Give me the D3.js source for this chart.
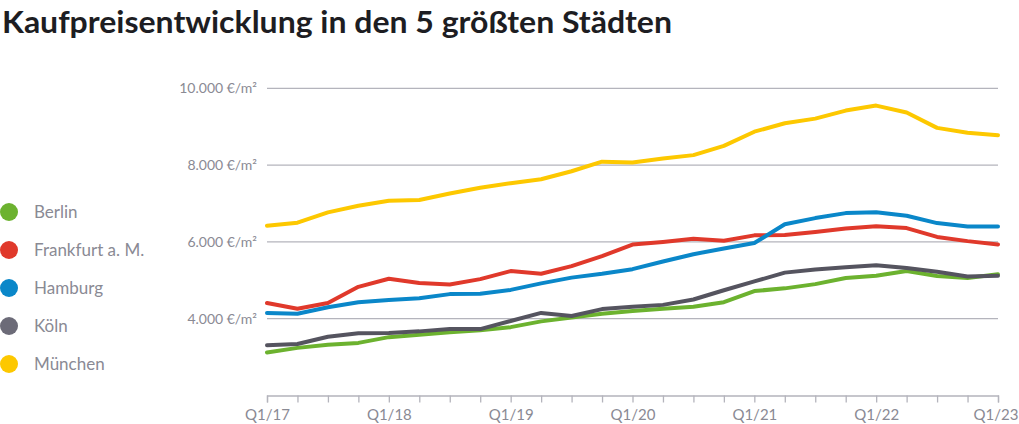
<!DOCTYPE html>
<html>
<head>
<meta charset="utf-8">
<script src="https://cdn.jsdelivr.net/npm/d3@7"></script>
<style>
body { margin: 0; background: #fff; }
svg { display: block; font-family: "Lato", "Noto Sans", sans-serif; }
</style>
</head>
<body>
<svg id="chart" width="1019" height="424"></svg>
<script>
// quarters Q1/17 .. Q1/23
var quarters = ["Q1/17","Q2/17","Q3/17","Q4/17","Q1/18","Q2/18","Q3/18","Q4/18","Q1/19","Q2/19","Q3/19","Q4/19",
	"Q1/20","Q2/20","Q3/20","Q4/20","Q1/21","Q2/21","Q3/21","Q4/21","Q1/22","Q2/22","Q3/22","Q4/22","Q1/23"]
var tickLabels = ["Q1/17","Q1/18","Q1/19","Q1/20","Q1/21","Q1/22","Q1/23"]
var yTicks = [4000, 6000, 8000, 10000]

var cities = ["Berlin", "Frankfurt a. M.", "Hamburg", "Köln", "München"]
var colors = ["#6cb22f", "#e0392b", "#0a87c9", "#6c6b78", "#fdc800"]
var lineColors = ["#6cb22f", "#e0392b", "#0a87c9", "#55545f", "#fdc800"]

var berlin = [3120,3240,3320,3370,3520,3580,3650,3700,3780,3930,4030,4130,4200,4260,4310,4430,4720,4790,4900,5060,5120,5240,5110,5060,5160]
var frankfurt = [4410,4260,4410,4830,5040,4930,4890,5030,5240,5170,5370,5630,5930,6000,6080,6030,6170,6180,6260,6350,6410,6360,6130,6020,5930]
var hamburg = [4150,4130,4300,4430,4490,4530,4640,4650,4750,4920,5070,5170,5290,5490,5680,5830,5970,6460,6620,6750,6770,6680,6490,6400,6400]
var koeln = [3310,3340,3530,3620,3630,3670,3730,3730,3940,4150,4070,4250,4310,4360,4500,4740,4970,5200,5280,5340,5390,5320,5220,5100,5120]
var muenchen = [6420,6500,6770,6940,7070,7090,7260,7410,7530,7630,7840,8090,8070,8170,8260,8500,8870,9090,9210,9420,9550,9370,8970,8840,8780]

var series = [berlin, frankfurt, hamburg, koeln, muenchen]
var drawOrder = [4, 1, 2, 0, 3]

var chart = d3.select("#chart")

var x = d3.scalePoint().domain(quarters).range([267, 998])
var y = d3.scaleLinear().domain([2000, 10000]).range([395.5, 88.3])

// title
chart.append("text")
	.attr("x", 2)
	.attr("y", 33)
	.attr("font-size", "31px")
	.attr("font-weight", 700)
	.attr("fill", "#1d1d22")
	.attr("textLength", 670)
	.attr("lengthAdjust", "spacingAndGlyphs")
	.text("Kaufpreisentwicklung in den 5 größten Städten")

// gridlines + y labels
var grid = chart.append("g")
grid.selectAll("line").data(yTicks).enter().append("line")
	.attr("x1", 267).attr("x2", 998)
	.attr("y1", d => y(d)).attr("y2", d => y(d))
	.attr("stroke", "#b4b4bc").attr("stroke-width", 1.3)
grid.selectAll("text").data(yTicks).enter().append("text")
	.attr("x", 257)
	.attr("y", d => y(d) + 5)
	.attr("text-anchor", "end")
	.attr("font-size", "14px")
	.attr("fill", "#8a8a94")
	.text(d => d3.format(",")(d).replace(",", ".") + " €/m²")

// x axis
var xAxis = chart.append("g")
	.attr("transform", "translate(0," + y(2000) + ")")
	.call(d3.axisBottom(x).tickSize(7).tickFormat(d => tickLabels.includes(d) ? d : ""))
xAxis.select(".domain").attr("stroke", "#b4b4bc").attr("stroke-width", 1.3)
xAxis.selectAll(".tick line").attr("stroke", "#b4b4bc").attr("stroke-width", 1.3)
xAxis.selectAll(".tick text")
	.attr("font-family", "Lato, 'Noto Sans', sans-serif")
	.attr("font-size", "15px")
	.attr("fill", "#8a8a94")
	.attr("dy", "0.95em")
// last label would run off the right edge
xAxis.selectAll(".tick text").filter(d => d == "Q1/23")
	.attr("text-anchor", "end")
	.attr("x", 20)

// lines
var line = d3.line()
	.x((d, i) => x(quarters[i]))
	.y(d => y(d))
chart.append("g").selectAll("path").data(drawOrder).enter().append("path")
	.attr("d", i => line(series[i]))
	.attr("fill", "none")
	.attr("stroke", i => lineColors[i])
	.attr("stroke-width", 4)
	.attr("stroke-linejoin", "round")
	.attr("stroke-linecap", "round")

// legend
var legend = chart.append("g").selectAll("g").data(cities).enter().append("g")
	.attr("transform", (d, i) => "translate(0," + (212 + i * 38) + ")")
legend.append("circle")
	.attr("cx", 9).attr("cy", 0).attr("r", 9)
	.attr("fill", (d, i) => colors[i])
legend.append("text")
	.attr("x", 34).attr("y", 6)
	.attr("font-size", "17px")
	.attr("fill", "#8a8a94")
	.text(d => d)
</script>
</body>
</html>
